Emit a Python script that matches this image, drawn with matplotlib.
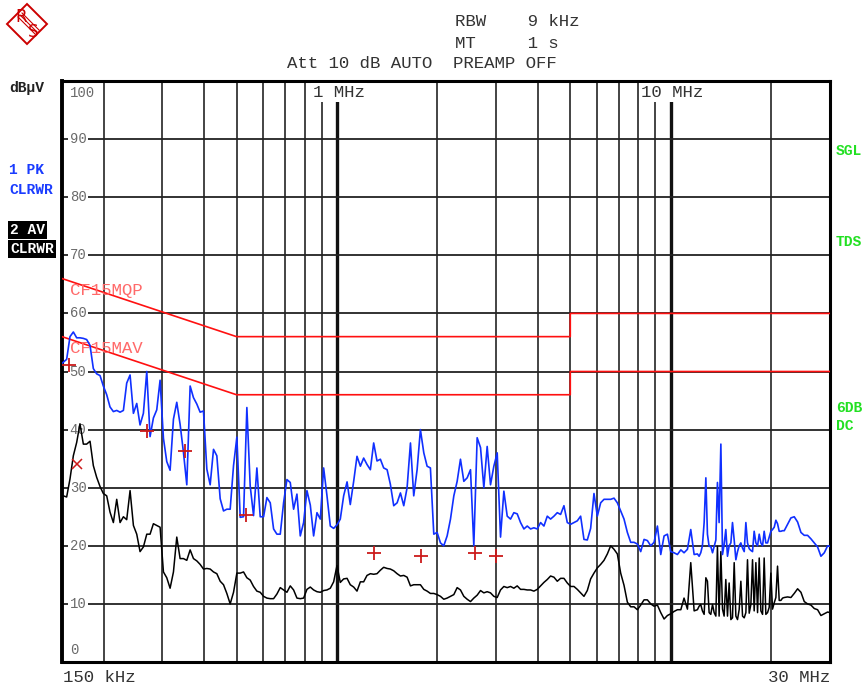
import matplotlib
matplotlib.use("Agg")
import matplotlib.pyplot as plt
from matplotlib.patches import Polygon
from matplotlib.ticker import NullLocator

MONO = "Liberation Mono"
W, H = 864, 688

# sweep points (MHz) shared by both detector traces
freq_mhz = [
    0.15, 0.1514, 0.1549, 0.1585, 0.1622, 0.1660, 0.1698, 0.1738, 0.1778, 0.1820,
    0.1862, 0.1905, 0.1950, 0.1995, 0.2042, 0.2089, 0.2138, 0.2188, 0.2239, 0.2291,
    0.2344, 0.2399, 0.2455, 0.2512, 0.2570, 0.2630, 0.2692, 0.2754, 0.2818, 0.2884,
    0.2951, 0.3020, 0.3090, 0.3162, 0.3236, 0.3311, 0.3388, 0.3467, 0.3548, 0.3631,
    0.3715, 0.3802, 0.3890, 0.3981, 0.4074, 0.4169, 0.4266, 0.4365, 0.4467, 0.4571,
    0.4677, 0.4786, 0.4898, 0.5012, 0.5129, 0.5248, 0.5370, 0.5495, 0.5623, 0.5754,
    0.5888, 0.6026, 0.6166, 0.6310, 0.6457, 0.6607, 0.6761, 0.6918, 0.7079, 0.7244,
    0.7413, 0.7586, 0.7762, 0.7943, 0.8128, 0.8318, 0.8511, 0.8710, 0.8913, 0.9120,
    0.9333, 0.9550, 0.9772, 1.000, 1.023, 1.047, 1.072, 1.096, 1.122, 1.148,
    1.175, 1.202, 1.230, 1.259, 1.288, 1.318, 1.349, 1.380, 1.413, 1.445,
    1.479, 1.514, 1.549, 1.585, 1.622, 1.660, 1.698, 1.738, 1.778, 1.820,
    1.862, 1.905, 1.950, 1.995, 2.042, 2.089, 2.138, 2.188, 2.239, 2.291,
    2.344, 2.399, 2.455, 2.512, 2.570, 2.630, 2.692, 2.754, 2.818, 2.884,
    2.951, 3.020, 3.090, 3.162, 3.236, 3.311, 3.388, 3.467, 3.548, 3.631,
    3.715, 3.802, 3.890, 3.981, 4.074, 4.169, 4.266, 4.365, 4.467, 4.571,
    4.677, 4.786, 4.898, 5.012, 5.129, 5.248, 5.370, 5.495, 5.623, 5.754,
    5.888, 6.026, 6.166, 6.310, 6.457, 6.607, 6.761, 6.918, 7.079, 7.244,
    7.413, 7.586, 7.762, 7.943, 8.128, 8.318, 8.511, 8.710, 8.913, 9.120,
    9.333, 9.550, 9.772, 10.00, 10.23, 10.47, 10.72, 10.96, 11.22, 11.48,
    11.75, 12.02, 12.16, 12.30, 12.44, 12.59, 12.74, 12.88, 13.03, 13.18,
    13.34, 13.49, 13.65, 13.80, 13.96, 14.13, 14.29, 14.45, 14.62, 14.79,
    14.96, 15.14, 15.31, 15.49, 15.67, 15.85, 16.03, 16.22, 16.41, 16.60,
    16.79, 16.98, 17.18, 17.38, 17.58, 17.78, 17.99, 18.20, 18.41, 18.62,
    18.84, 19.05, 19.27, 19.50, 19.72, 19.95, 20.18, 20.42, 20.65, 20.89,
    21.13, 21.38, 21.63, 21.88, 22.39, 22.91, 23.44, 23.99, 24.55, 25.12,
    25.70, 26.30, 26.92, 27.54, 28.18, 28.84, 29.51, 30.0,
]

# trace 1: peak detector (dBuV)
pk_dbuv = [
    51.4, 51.6, 52.1, 56.0, 56.8, 55.8, 55.8, 55.7, 55.5, 54.5,
    50.5, 49.6, 49.3, 47.5, 46.0, 43.9, 43.1, 43.3, 43.0, 43.3,
    48.0, 49.4, 42.8, 44.5, 40.8, 42.8, 50.0, 38.8, 42.0, 43.4,
    48.5, 38.5, 34.5, 33.0, 41.8, 44.7, 40.9, 36.1, 30.5, 47.5,
    45.5, 44.4, 43.0, 43.2, 33.2, 30.5, 36.6, 35.5, 28.1, 26.0,
    26.3, 26.3, 33.8, 38.7, 24.9, 25.0, 43.8, 30.3, 25.2, 33.4,
    25.0, 25.0, 28.3, 27.4, 22.9, 22.0, 22.0, 27.4, 31.4, 30.9,
    26.3, 28.9, 21.7, 24.0, 29.5, 27.0, 21.7, 25.7, 24.6, 33.4,
    28.6, 23.4, 23.0, 23.6, 24.6, 28.6, 31.0, 27.1, 31.1, 35.4,
    33.7, 35.1, 34.0, 33.1, 37.7, 34.6, 34.9, 33.4, 33.1, 30.6,
    26.9, 27.4, 29.1, 26.9, 30.0, 37.7, 28.6, 33.1, 40.0, 36.0,
    33.7, 33.4, 22.0, 22.3, 20.5, 20.0, 21.7, 24.6, 28.6, 31.1,
    34.9, 31.1, 31.7, 33.1, 20.0, 38.6, 36.9, 30.0, 37.1, 30.5,
    33.7, 36.0, 21.5, 29.4, 25.1, 24.6, 25.7, 25.5, 24.0, 22.9,
    23.4, 22.9, 23.1, 22.9, 24.0, 23.4, 25.1, 24.6, 25.1, 25.7,
    25.4, 26.9, 24.0, 23.7, 24.0, 24.3, 25.1, 21.1, 21.0, 23.0,
    29.0, 25.1, 27.4, 28.0, 28.0, 28.0, 28.2, 27.4, 26.0, 24.6,
    22.3, 20.6, 20.6, 20.3, 19.0, 21.1, 20.9, 20.0, 20.6, 23.4,
    18.5, 21.7, 22.0, 19.0, 18.8, 18.5, 19.3, 18.8, 19.4, 22.8,
    18.5, 18.6, 18.2, 18.8, 20.0, 24.0, 31.7, 22.0, 19.9, 19.9,
    18.8, 19.9, 21.0, 30.9, 24.0, 37.5, 18.5, 20.2, 22.8, 18.2,
    20.0, 20.5, 24.0, 21.0, 17.6, 19.0, 20.0, 20.5, 19.6, 19.0,
    24.0, 20.5, 19.5, 19.2, 19.0, 22.5, 20.5, 20.0, 22.0, 20.5,
    20.0, 22.5, 20.5, 20.5, 21.5, 22.5, 22.8, 23.2, 24.4, 23.8,
    22.5, 22.5, 22.6, 22.6, 23.7, 24.8, 25.0, 24.1, 22.3, 21.8,
    21.8, 21.2, 20.5, 19.8, 18.2, 18.8, 20.0, 19.9,
]

# trace 2: average detector (dBuV)
av_dbuv = [
    28.6, 28.6, 28.4, 31.5, 35.5, 37.8, 41.0, 37.5, 37.5, 38.0,
    33.8, 31.8, 30.2, 29.0, 28.6, 25.8, 24.0, 28.0, 24.0, 25.0,
    24.5, 29.5, 23.5, 22.0, 19.0, 19.8, 22.0, 22.0, 23.8, 23.5,
    23.2, 15.5, 14.5, 12.7, 15.5, 21.5, 17.8, 17.8, 17.5, 19.3,
    17.8, 17.4, 16.8, 16.0, 16.1, 16.0, 15.5, 15.2, 13.9, 13.3,
    11.8, 10.0, 12.0, 15.3, 15.3, 15.5, 14.5, 14.1, 13.0, 12.2,
    12.0, 11.3, 11.0, 10.9, 10.9, 11.7, 12.8, 12.4, 12.0, 13.1,
    12.4, 11.0, 10.9, 11.0, 12.5, 12.9, 12.4, 12.1, 12.0, 12.3,
    12.4, 12.7, 13.8, 16.6, 13.7, 14.3, 14.4, 13.3, 12.9, 12.2,
    13.8, 13.8, 14.9, 15.2, 15.1, 15.2, 15.8, 16.3, 16.1, 16.0,
    15.7, 15.2, 14.8, 14.9, 14.6, 13.1, 13.3, 13.3, 13.3, 12.5,
    12.2, 11.8, 11.8, 11.6, 11.3, 10.8, 11.0, 11.3, 11.6, 12.8,
    12.4, 11.3, 10.8, 10.4, 11.0, 11.5, 12.3, 11.9, 12.1, 11.9,
    11.3, 11.1, 12.4, 13.0, 12.8, 13.0, 12.7, 13.1, 12.5, 12.5,
    12.4, 12.4, 12.2, 12.5, 13.1, 13.7, 14.2, 14.8, 14.6, 13.9,
    14.4, 14.4, 13.6, 13.0, 13.0, 12.5, 11.9, 11.3, 12.3, 14.3,
    15.3, 16.2, 16.8, 17.5, 18.6, 20.0, 19.4, 18.6, 15.3, 13.2,
    10.3, 9.5, 9.5, 9.0, 9.8, 10.7, 10.7, 10.0, 9.6, 9.8,
    8.5, 7.4, 8.0, 8.3, 8.7, 9.0, 9.0, 11.0, 9.1, 17.1,
    8.8, 9.0, 9.6, 9.9, 8.8, 8.2, 14.5, 13.9, 8.5, 8.2,
    9.9, 8.5, 7.9, 19.9, 7.9, 19.0, 9.1, 7.9, 14.2, 7.9,
    13.6, 7.3, 7.6, 17.1, 7.9, 7.3, 9.0, 13.9, 7.9, 7.6,
    8.5, 17.6, 8.4, 9.9, 17.6, 8.8, 17.1, 8.5, 17.9, 8.8,
    8.2, 17.9, 8.2, 8.5, 9.4, 15.3, 9.1, 10.2, 11.1, 16.5,
    10.6, 10.6, 11.0, 11.1, 11.2, 11.1, 11.8, 12.6, 12.0, 10.4,
    10.0, 9.8, 9.2, 9.0, 8.0, 8.3, 8.6, 8.5,
]

assert len(freq_mhz) == len(pk_dbuv) == len(av_dbuv)

# limit lines
limit_freq = [0.15, 0.5, 5.0, 5.0, 30.0]
qp_limit = [66, 56, 56, 60, 60]
av_limit = [56, 46, 46, 50, 50]

# final measurement results
final_freq = [0.157, 0.269, 0.350, 0.533, 1.29, 1.78, 2.60, 3.00]
final_level = [51.2, 39.8, 36.3, 25.3, 18.8, 18.3, 18.8, 18.3]
cross_freq = [0.1665]
cross_level = [34.1]

grid_freq = [0.2, 0.3, 0.4, 0.5, 0.6, 0.7, 0.8, 0.9,
             2, 3, 4, 5, 6, 7, 8, 9, 20]
decade_freq = [1, 10]
grid_level = [10, 20, 30, 40, 50, 60, 70, 80, 90]
level_labels = ["0", "10", "20", "30", "40", "50", "60", "70", "80", "90", "100"]


def px(x, y):
    return x / W, 1 - y / H


fig = plt.figure(figsize=(W / 100, H / 100), dpi=100)
fig.patch.set_facecolor("white")

ax = fig.add_axes([62 / W, 1 - 662 / H, 768 / W, 581 / H])
ax.set_xscale("log")
ax.set_xlim(0.15, 30)
ax.set_ylim(0, 100)
for axis in (ax.xaxis, ax.yaxis):
    axis.set_major_locator(NullLocator())
    axis.set_minor_locator(NullLocator())
for side, sp in ax.spines.items():
    sp.set_linewidth(2.2)
    sp.set_color("black")
ax.spines["left"].set_linewidth(2.8)

for f in grid_freq:
    ax.axvline(f, color="#111111", lw=1.1, zorder=1)
for f in decade_freq:
    ax.axvline(f, color="#111111", lw=2.4, zorder=1)
for lv in grid_level:
    ax.axhline(lv, color="#222222", lw=1.3, zorder=1)

# level labels drawn inside the frame
ytrans = ax.get_yaxis_transform()
for i, txt in enumerate(level_labels):
    lv = i * 10
    if lv == 100:
        lv = 98
    elif lv == 0:
        lv = 2
    ax.text(0.010, lv, txt, transform=ytrans, ha="left", va="center",
            fontsize=10, family=MONO, color="#6a6a6a", zorder=3,
            bbox=dict(boxstyle="square,pad=0.12", fc="white", ec="none"))

for f, txt in [(0.848, "1 MHz"), (8.14, "10 MHz")]:
    ax.text(f, 98, txt, ha="left", va="center",
            fontsize=12.5, family=MONO, color="#333333", zorder=3,
            bbox=dict(boxstyle="square,pad=0.1", fc="white", ec="none"))

# limit lines
ax.plot(limit_freq, qp_limit, color="#ff1010", lw=1.2, zorder=4)
ax.plot(limit_freq, av_limit, color="#ff1010", lw=1.2, zorder=4)
ax.text(0.158, 64.0, "CF15MQP", fontsize=12.5, family=MONO, color="#ff6a6a",
        ha="left", va="center", zorder=5)
ax.text(0.158, 54.0, "CF15MAV", fontsize=12.5, family=MONO, color="#ff6a6a",
        ha="left", va="center", zorder=5)

# traces
ax.plot(freq_mhz, av_dbuv, color="black", lw=1.1, zorder=5)
ax.plot(freq_mhz, pk_dbuv, color="#1030ff", lw=1.2, zorder=6)

ax.plot(final_freq, final_level, ls="none", marker="+", ms=10, mew=1.3,
        color="#cc1a1a", zorder=7, clip_on=False)
ax.plot(cross_freq, cross_level, ls="none", marker="x", ms=7, mew=1.1,
        color="#cc1a1a", zorder=7)

# header / side annotations
hdr = dict(family=MONO, fontsize=12.5, color="#333333", va="center", ha="left")
fig.text(*px(455, 21), "RBW    9 kHz", **hdr)
fig.text(*px(455, 43), "MT     1 s", **hdr)
fig.text(*px(287, 64), "Att 10 dB AUTO  PREAMP OFF", **hdr)
fig.text(*px(63, 678), "150 kHz", **hdr)
fig.text(*px(830, 678), "30 MHz", **{**hdr, "ha": "right"})

side = dict(family=MONO, fontsize=10.5, weight="bold", va="center", ha="left")
fig.text(*px(9, 88), "dBµV", color="#222222", **side)
fig.text(*px(9, 170), "1 PK", color="#1a3cff", **side)
fig.text(*px(9, 190), "CLRWR", color="#1a3cff", **side)
fig.text(*px(10, 230), "2 AV", color="white", **side,
         bbox=dict(boxstyle="square,pad=0.15", fc="black", ec="none"))
fig.text(*px(10, 249), "CLRWR", color="white", **side,
         bbox=dict(boxstyle="square,pad=0.15", fc="black", ec="none"))

green = "#22e022"
for y, txt in [(151, "SGL"), (242, "TDS"), (408, "6DB"), (426, "DC")]:
    fig.text(*px(836, y), txt, color=green, **side)

# instrument logo
lax = fig.add_axes([0, 1 - 50 / H, 54 / W, 50 / H])
lax.set_xlim(0, 54)
lax.set_ylim(50, 0)
lax.set_aspect("equal")
lax.axis("off")
lax.add_patch(Polygon([(27, 4), (47, 24), (27, 44), (7, 24)], closed=True,
                      fill=False, ec="#cc0000", lw=1.4))
for off in (-2.0, 0, 2.0):
    lax.plot([20 + off, 37 + off], [15 - off, 32 - off], color="#cc0000", lw=0.8)
lax.text(21, 17, "R", color="#cc0000", fontsize=12, ha="center", va="center")
lax.text(33, 32, "S", color="#cc0000", fontsize=12, ha="center", va="center")

fig.savefig("out.png", dpi=100)
